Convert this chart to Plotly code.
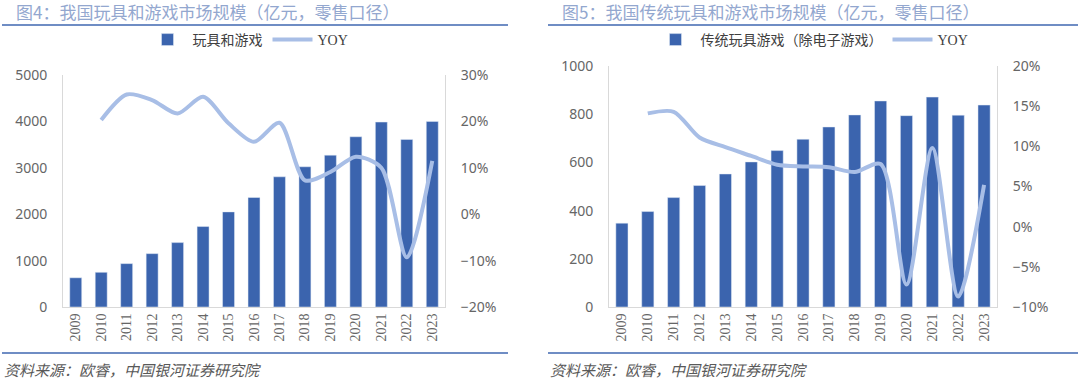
import plotly.graph_objects as go

years = [str(y) for y in range(2009, 2024)]

# Figure 4: toys & games market size (100m CNY) and YOY
size_all = [630, 748, 935, 1150, 1388, 1734, 2050, 2360, 2806, 3022, 3273, 3669, 3986, 3612, 4000]
yoy_all = [None, 20.3, 25.8, 24.6, 21.7, 25.3, 19.6, 15.6, 19.7, 7.3, 9.1, 12.4, 10.0, -9.3, 11.5]

# Figure 5: traditional toys & games (excluding video games)
size_trad = [348, 396, 454, 504, 552, 602, 649, 696, 747, 797, 855, 794, 871, 796, 838]
yoy_trad = [None, 14.1, 14.3, 11.1, 9.9, 8.8, 7.7, 7.5, 7.4, 6.8, 7.8, -7.2, 9.8, -8.7, 5.2]

title_left = "图4：我国玩具和游戏市场规模（亿元，零售口径）"
title_right = "图5：我国传统玩具和游戏市场规模（亿元，零售口径）"
source_text = "资料来源：欧睿，中国银河证券研究院"

BAR = "#3B64AE"
LINE = "#A8BEE6"
TICK = "#666666"
AXL = "#D9D9D9"
W, H = 1080, 381

def px(x):
    return x / W

def py(y):
    return 1 - y / H

fig = go.Figure()
fig.add_trace(go.Bar(x=years, y=size_all, name="玩具和游戏", marker_color=BAR,
                     xaxis="x", yaxis="y", legend="legend"))
fig.add_trace(go.Scatter(x=years, y=yoy_all, name="YOY", mode="lines",
                         line=dict(color=LINE, width=4, shape="spline", smoothing=0.8),
                         xaxis="x", yaxis="y2", legend="legend"))
fig.add_trace(go.Bar(x=years, y=size_trad, name="传统玩具游戏（除电子游戏）", marker_color=BAR,
                     xaxis="x2", yaxis="y3", legend="legend2"))
fig.add_trace(go.Scatter(x=years, y=yoy_trad, name="YOY", mode="lines",
                         line=dict(color=LINE, width=4, shape="spline", smoothing=0.8),
                         xaxis="x2", yaxis="y4", legend="legend2"))

tickfont = dict(family="Noto Sans, sans-serif", size=14, color=TICK)
xfont = dict(family="Liberation Serif, serif", size=14, color=TICK)

xcommon = dict(type="category", tickangle=-90, tickfont=xfont, showline=True,
               linecolor=AXL, linewidth=1, showgrid=False, ticks="", zeroline=False,
               automargin=False)
ycommon = dict(showgrid=False, zeroline=False, tickfont=tickfont, showline=True,
               linecolor=AXL, linewidth=1, ticks="", ticklabelstandoff=12,
               automargin=False)

legfont = dict(family="Liberation Serif, Noto Sans CJK SC, serif", size=14, color="#404040")

fig.update_layout(
    width=W, height=H, margin=dict(l=0, r=0, t=0, b=0, autoexpand=False),
    paper_bgcolor="white", plot_bgcolor="white",
    bargap=0.53,
    xaxis=dict(domain=[px(63), px(445)], anchor="y", **xcommon),
    yaxis=dict(domain=[py(307), py(75)], anchor="x", range=[0, 5000], dtick=1000, **ycommon),
    yaxis2=dict(overlaying="y", side="right", anchor="x", range=[-20, 30], dtick=10,
                ticksuffix="%", **ycommon),
    xaxis2=dict(domain=[px(609), px(997)], anchor="y3", **xcommon),
    yaxis3=dict(domain=[py(307), py(66)], anchor="x2", range=[0, 1000], dtick=200, **ycommon),
    yaxis4=dict(overlaying="y3", side="right", anchor="x2", range=[-10, 20], dtick=5,
                ticksuffix="%", **ycommon),
    legend=dict(orientation="h", x=px(248), xanchor="center", y=py(40), yanchor="middle",
                font=legfont, bgcolor="rgba(0,0,0,0)", itemwidth=40, traceorder="normal"),
    legend2=dict(orientation="h", x=px(812), xanchor="center", y=py(40), yanchor="middle",
                 font=legfont, bgcolor="rgba(0,0,0,0)", itemwidth=40, traceorder="normal"),
    showlegend=True,
)

title_font = dict(family="Noto Sans CJK SC, sans-serif", size=17, color="#93A7CF")
src_font = dict(family="Noto Sans CJK SC, sans-serif", size=15, color="#595959", style="italic")

fig.add_annotation(text=title_left, x=px(14), y=py(12), xref="paper", yref="paper",
                   xanchor="left", yanchor="middle", showarrow=False, font=title_font)
fig.add_annotation(text=title_right, x=px(560), y=py(12), xref="paper", yref="paper",
                   xanchor="left", yanchor="middle", showarrow=False, font=title_font)
fig.add_annotation(text=source_text, x=px(2), y=py(369), xref="paper", yref="paper",
                   xanchor="left", yanchor="middle", showarrow=False, font=src_font)
fig.add_annotation(text=source_text, x=px(548), y=py(369), xref="paper", yref="paper",
                   xanchor="left", yanchor="middle", showarrow=False, font=src_font)

RULE = "#6F8DC4"
for x0, x1 in [(2, 508), (548, 1078)]:
    for yy in (25, 353):
        fig.add_shape(type="line", xref="paper", yref="paper",
                      x0=px(x0), x1=px(x1), y0=py(yy), y1=py(yy),
                      line=dict(color=RULE, width=2))

fig.write_html("out.html", config={"displayModeBar": False},
               post_script="document.body.style.margin='0';document.body.style.overflow='hidden';")
